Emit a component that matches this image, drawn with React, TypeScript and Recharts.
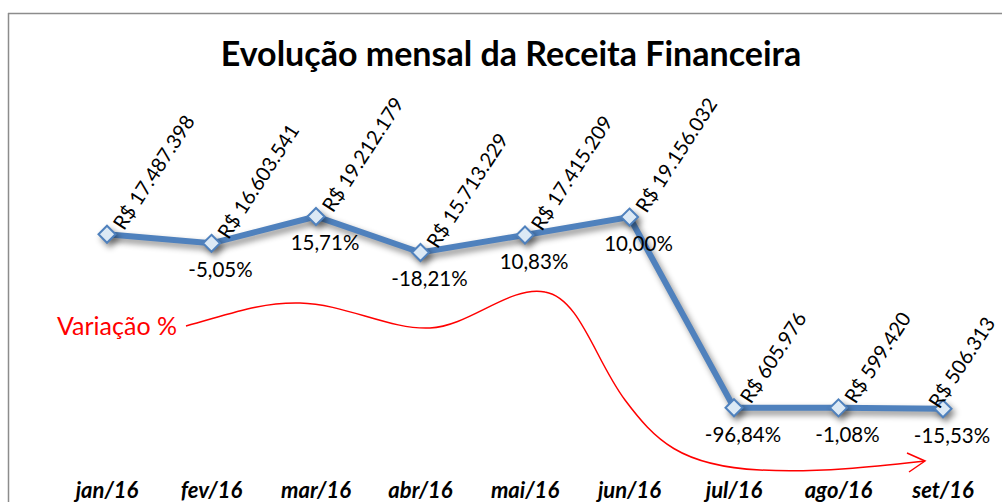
import React from 'react';
import { LineChart, Line, XAxis, YAxis, LabelList } from 'recharts';

const months = ['jan/16', 'fev/16', 'mar/16', 'abr/16', 'mai/16', 'jun/16', 'jul/16', 'ago/16', 'set/16'];
const receita = [17487398, 16603541, 19212179, 15713229, 17415209, 19156032, 605976, 599420, 506313];
const variacao: (number | null)[] = [null, -5.05, 15.71, -18.21, 10.83, 10.0, -96.84, -1.08, -15.53];

const data = months.map((m, i) => ({ mes: m, receita: receita[i], variacao: variacao[i] }));

const FONT = 'Lato, "Noto Sans", sans-serif';
const BLUE = '#4F81BD';
const CHART_W = 1002;
const LABEL_SIZE = 20;
const LABEL_ANGLE = 57;

const fmtBRL = (v: number) => 'R$ ' + String(Math.round(v)).replace(/\B(?=(\d{3})+(?!\d))/g, '.');
const fmtPct = (v: number) => v.toFixed(2).replace('.', ',') + '%';

let measureCtx: CanvasRenderingContext2D | null = null;
const measure = (s: string) => {
  try {
    if (!measureCtx) measureCtx = document.createElement('canvas').getContext('2d');
    if (measureCtx) {
      measureCtx.font = `${LABEL_SIZE}px ${FONT}`;
      return measureCtx.measureText(s).width;
    }
  } catch (e) {}
  return s.length * LABEL_SIZE * 0.55;
};

const Diamond = (props: any) => {
  const { cx, cy } = props;
  if (cx == null || cy == null) return null;
  const r = 8.5;
  return (
    <polygon
      points={`${cx},${cy - r} ${cx + r},${cy} ${cx},${cy + r} ${cx - r},${cy}`}
      fill="#DCE9F5"
      stroke={BLUE}
      strokeWidth={2}
    />
  );
};

const ValueLabel = (props: any) => {
  const { x, y, value } = props;
  if (value == null) return null;
  const s = fmtBRL(value);
  const len = measure(s);
  const rad = (LABEL_ANGLE * Math.PI) / 180;
  let tx = x + 17;
  let ty = y - 3;
  const overflow = tx + len * Math.cos(rad) - (CHART_W - 6);
  if (overflow > 0) {
    tx -= overflow;
    ty += 4;
  }
  return (
    <text x={tx} y={ty} transform={`rotate(-${LABEL_ANGLE}, ${tx}, ${ty})`} fontSize={LABEL_SIZE} fontFamily={FONT} fill="#000">
      {s}
    </text>
  );
};

const PctLabel = (props: any) => {
  const { x, y, value } = props;
  if (value == null) return null;
  return (
    <text x={x + 9} y={y + 34} textAnchor="middle" fontSize={20.5} fontFamily={FONT} fill="#000">
      {fmtPct(value)}
    </text>
  );
};

const MonthTick = (props: any) => {
  const { x, y, payload } = props;
  return (
    <text x={x} y={y + 84} textAnchor="middle" fontSize={22} fontWeight={700} fontStyle="italic" fontFamily={FONT} fill="#000">
      {payload.value}
    </text>
  );
};

export default function App() {
  return (
    <div style={{ position: 'absolute', left: 0, top: 0, width: 1002, height: 502, background: '#fff', overflow: 'hidden' }}>
      <style>{`.recharts-line-curve, .recharts-line-dots { filter: drop-shadow(3px 4px 3px rgba(0,0,0,0.45)); }`}</style>
      <LineChart width={CHART_W} height={502} data={data} margin={{ top: 157, right: 59, bottom: 0, left: 107 }}>
        <XAxis dataKey="mes" height={88} axisLine={false} tickLine={false} tickSize={0} tickMargin={0} tick={<MonthTick />} interval={0} />
        <YAxis hide domain={[0, 25000000]} />
        <Line
          type="linear"
          dataKey="receita"
          stroke={BLUE}
          strokeWidth={6}
          dot={<Diamond />}
          activeDot={false}
          isAnimationActive={false}
        >
          <LabelList dataKey="receita" content={<ValueLabel />} />
          <LabelList dataKey="variacao" content={<PctLabel />} />
        </Line>
      </LineChart>
      <svg width={1002} height={502} style={{ position: 'absolute', left: 0, top: 0, pointerEvents: 'none' }}>
        <line x1={8.5} y1={13} x2={8.5} y2={502} stroke="#8C8C8C" strokeWidth={1.5} />
        <line x1={8} y1={13.5} x2={1002} y2={13.5} stroke="#8C8C8C" strokeWidth={1.5} />
        <text x={511} y={66} textAnchor="middle" fontSize={34} fontWeight={700} fontFamily={FONT} fill="#000">
          Evolução mensal da Receita Financeira
        </text>
        <text x={57} y={335} fontSize={25} fontFamily={FONT} fill="#FF0000">
          Variação %
        </text>
        <path
          d="M186,326 C230,314 260,302 300,303 C345,304 390,330 430,328 C470,326 510,285 545,292 C580,298 595,360 625,400 C655,440 680,466 760,470 C820,473 880,466 925,461"
          fill="none"
          stroke="#FF0000"
          strokeWidth={1.5}
        />
        <path d="M907,453 L925,461 L909,472" fill="none" stroke="#FF0000" strokeWidth={1.5} />
      </svg>
    </div>
  );
}
